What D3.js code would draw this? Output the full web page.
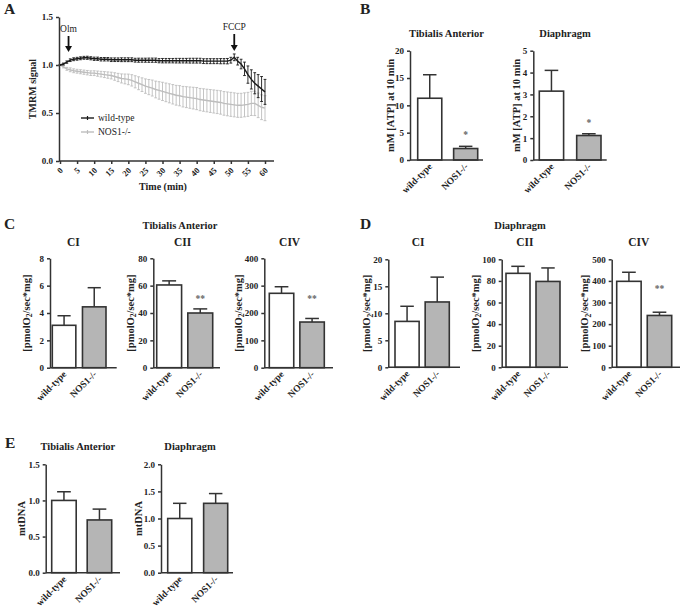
<!DOCTYPE html>
<html><head><meta charset="utf-8">
<script src="https://cdn.jsdelivr.net/npm/d3@7"></script>
<style>
body{margin:0;background:#fff}
svg text{font-family:"Liberation Serif","Times New Roman",serif;font-weight:bold;fill:#222}
</style>
</head><body>
<svg id="c" width="685" height="607"></svg>
<script>
// ---------- DATA ----------
const groups = ["wild-type", "NOS1-/-"];

// Panel A: TMRM signal over time (1-min sampling)
const time = [0,1,2,3,4,5,6,7,8,9,10,11,12,13,14,15,16,17,18,19,20,21,22,23,24,25,26,27,28,29,30,
  31,32,33,34,35,36,37,38,39,40,41,42,43,44,45,46,47,48,49,50,51,52,53,54,55,56,57,58,59,60];
const wtMean = [1.00,1.01,1.03,1.05,1.06,1.065,1.07,1.075,1.075,1.07,1.065,1.065,1.06,1.06,1.06,1.055,
  1.055,1.055,1.055,1.055,1.055,1.055,1.05,1.05,1.05,1.05,1.05,1.05,1.05,1.045,1.045,1.045,1.045,1.045,
  1.045,1.045,1.045,1.045,1.045,1.045,1.045,1.045,1.04,1.04,1.04,1.04,1.04,1.04,1.04,1.04,1.05,1.08,
  1.04,1.01,0.96,0.90,0.85,0.81,0.78,0.75,0.72];
const wtErr = [0,0.01,0.012,0.014,0.015,0.015,0.015,0.015,0.016,0.016,0.017,0.017,0.018,0.018,0.018,0.019,
  0.019,0.019,0.02,0.02,0.02,0.02,0.02,0.021,0.021,0.021,0.022,0.022,0.022,0.022,0.023,0.023,0.023,0.023,
  0.024,0.024,0.024,0.024,0.025,0.025,0.025,0.025,0.025,0.026,0.026,0.026,0.026,0.027,0.027,0.028,0.03,
  0.035,0.04,0.05,0.07,0.09,0.10,0.11,0.12,0.13,0.13];
const nosMean = [1.00,0.98,0.96,0.95,0.94,0.935,0.93,0.925,0.92,0.915,0.915,0.91,0.905,0.90,0.895,0.89,
  0.88,0.87,0.86,0.855,0.85,0.84,0.825,0.81,0.795,0.78,0.77,0.76,0.745,0.735,0.725,0.715,0.705,0.695,
  0.685,0.68,0.67,0.665,0.66,0.655,0.65,0.64,0.635,0.63,0.625,0.62,0.615,0.61,0.60,0.595,0.59,0.585,
  0.58,0.58,0.585,0.59,0.60,0.60,0.58,0.56,0.55];
const nosErr = [0,0.01,0.015,0.02,0.02,0.02,0.021,0.022,0.023,0.024,0.025,0.027,0.029,0.031,0.033,0.035,
  0.039,0.043,0.047,0.051,0.055,0.059,0.063,0.067,0.071,0.075,0.079,0.083,0.087,0.091,0.095,0.097,0.099,
  0.101,0.103,0.105,0.107,0.109,0.111,0.113,0.115,0.116,0.117,0.118,0.119,0.12,0.121,0.122,0.123,0.124,
  0.125,0.125,0.125,0.125,0.125,0.125,0.126,0.127,0.128,0.129,0.13];
const timeTicks = [0,5,10,15,20,25,30,35,40,45,50,55,60];
const tmrmTicks = [0.0,0.5,1.0,1.5];

// Panel B: ATP
const atpTA = [11.3, 2.1],   atpTAErr = [4.3, 0.4];
const atpDia = [3.15, 1.12], atpDiaErr = [0.95, 0.08];
const atpTATicks = [0,5,10,15,20], atpDiaTicks = [0,1,2,3,4,5];

// Panel C: Tibialis Anterior respiration
const taCI = [3.1, 4.45],   taCIErr = [0.7, 1.4];
const taCII = [60.5, 40],   taCIIErr = [3.0, 3.0];
const taCIV = [272, 167],   taCIVErr = [24, 13];
const taCITicks = [0,2,4,6,8], taCIITicks = [0,20,40,60,80], taCIVTicks = [0,100,200,300,400];

// Panel D: Diaphragm respiration
const diaCI = [8.5, 12.1],  diaCIErr = [2.8, 4.6];
const diaCII = [87, 79.5],  diaCIIErr = [6.5, 12.5];
const diaCIV = [398, 240],  diaCIVErr = [42, 15];
const diaCITicks = [0,5,10,15,20], diaCIITicks = [0,20,40,60,80,100], diaCIVTicks = [0,100,200,300,400,500];

// Panel E: mtDNA
const mtTA = [1.0, 0.73],   mtTAErr = [0.12, 0.15];
const mtDia = [1.0, 1.28],  mtDiaErr = [0.28, 0.18];
const mtTATicks = [0,0.5,1.0,1.5], mtDiaTicks = [0,0.5,1.0,1.5,2.0];

// ---------- DRAWING ----------
const FONT = '"Liberation Serif","Times New Roman",serif';
const svg = d3.select("#c").attr("font-family", FONT);
const AX = "#333", GREY = "#b5b5b5";

function text(g, x, y, s, size, o = {}) {
  const t = g.append("text").attr("x", x).attr("y", y).attr("font-size", size)
    .attr("font-family", FONT)
    .attr("text-anchor", o.anchor || "middle").text(s);
  if (o.weight) t.style("font-weight", o.weight);
  if (o.fill) t.style("fill", o.fill);
  return t;
}
function styleAxis(sel, fs) {
  sel.attr("font-family", FONT);
  sel.selectAll("path,line").attr("stroke", AX).attr("stroke-width", 1.5);
  sel.selectAll("text").attr("font-size", fs).attr("font-family", FONT)
    .style("font-family", FONT).style("font-weight", "bold").style("fill", "#222");
}

// Panel letters
[["A",4,14],["B",360,14],["C",4,229],["D",360,229],["E",5,448]].forEach(d =>
  text(svg, d[1], d[2], d[0], 15.5, {anchor: "start"}));

// ---- Panel A ----
(function(){
  const g = svg.append("g");
  const x = d3.scaleLinear().domain([0, 60]).range([60, 265]);
  const y = d3.scaleLinear().domain([0, 1.5]).range([161, 17]);
  const ya = g.append("g").attr("transform", "translate(59,0)")
    .call(d3.axisLeft(y).tickValues(tmrmTicks).tickFormat(d3.format(".1f")).tickSize(3).tickSizeOuter(0));
  styleAxis(ya, 9);
  const xa = g.append("g").attr("transform", "translate(0,161)")
    .call(d3.axisBottom(x).tickValues(timeTicks).tickSize(3).tickSizeOuter(0));
  xa.select(".domain").remove();
  styleAxis(xa, 8.5);
  xa.selectAll("text").attr("text-anchor", "end").attr("dy", null).attr("y", 0)
    .attr("transform", "translate(3,10) rotate(-45)");
  g.append("line").attr("x1", 59).attr("x2", 274).attr("y1", 161).attr("y2", 161)
    .attr("stroke", AX).attr("stroke-width", 1.5);
  text(g, 163, 190, "Time (min)", 10);
  text(g, 0, 0, "TMRM signal", 10).attr("transform", "translate(36,89) rotate(-90)");

  function series(mean, err, col, w) {
    const s = g.append("g");
    time.forEach((t, i) => {
      const cx = x(t), y0 = y(mean[i] - err[i]), y1 = y(mean[i] + err[i]);
      s.append("line").attr("x1", cx).attr("x2", cx).attr("y1", y0).attr("y2", y1)
        .attr("stroke", col).attr("stroke-width", 0.9);
      [y0, y1].forEach(yy => s.append("line").attr("x1", cx - 1.4).attr("x2", cx + 1.4)
        .attr("y1", yy).attr("y2", yy).attr("stroke", col).attr("stroke-width", 0.9));
    });
    s.append("path").datum(time.map((t, i) => [t, mean[i]]))
      .attr("d", d3.line().x(d => x(d[0])).y(d => y(d[1])))
      .attr("fill", "none").attr("stroke", col).attr("stroke-width", w);
  }
  series(nosMean, nosErr, "#bdbdbd", 1.4);
  series(wtMean, wtErr, "#1a1a1a", 1.4);

  // arrows
  function arrow(t, yTop, yBot, label, ly) {
    const ax = x(t);
    g.append("line").attr("x1", ax).attr("x2", ax).attr("y1", yTop).attr("y2", yBot - 5)
      .attr("stroke", "#111").attr("stroke-width", 1.8);
    g.append("path").attr("d", `M${ax-3.5},${yBot-6}L${ax+3.5},${yBot-6}L${ax},${yBot}Z`).attr("fill", "#111");
    text(g, ax, ly, label, 9.5, {weight: "normal"});
  }
  arrow(2.5, 36, 52, "Olm", 32);
  arrow(51, 34, 51, "FCCP", 30);

  // legend
  [["wild-type", "#1a1a1a", 118], ["NOS1-/-", "#bdbdbd", 132]].forEach(d => {
    g.append("line").attr("x1", 81).attr("x2", 94).attr("y1", d[2]).attr("y2", d[2])
      .attr("stroke", d[1]).attr("stroke-width", 1.4);
    g.append("line").attr("x1", 87.5).attr("x2", 87.5).attr("y1", d[2] - 2).attr("y2", d[2] + 2)
      .attr("stroke", d[1]).attr("stroke-width", 1.2);
    text(g, 98, d[2] + 3, d[0], 9.5, {anchor: "start", weight: "normal"});
  });
})();

// ---- Bar panels ----
function barPanel(o) {
  const g = svg.append("g");
  const y = d3.scaleLinear().domain([0, o.ticks[o.ticks.length - 1]]).range([o.y1, o.y0]);
  const x = d3.scaleBand().domain(groups).range([o.b0, o.b1]).paddingInner(o.pad);
  const bw = x.bandwidth();
  // error bars
  groups.forEach((k, i) => {
    const cx = x(k) + bw / 2, top = y(o.vals[i] + o.errs[i]);
    g.append("line").attr("x1", cx).attr("x2", cx).attr("y1", y(o.vals[i])).attr("y2", top)
      .attr("stroke", AX).attr("stroke-width", 1.5);
    g.append("line").attr("x1", cx - bw * 0.28).attr("x2", cx + bw * 0.28).attr("y1", top).attr("y2", top)
      .attr("stroke", AX).attr("stroke-width", 1.5);
  });
  // bars
  g.selectAll("rect.bar").data(groups).join("rect").attr("class", "bar")
    .attr("x", k => x(k)).attr("width", bw)
    .attr("y", (k, i) => y(o.vals[i])).attr("height", (k, i) => o.y1 - y(o.vals[i]))
    .attr("fill", (k, i) => i === 0 ? "#fff" : GREY)
    .attr("stroke", AX).attr("stroke-width", 1.6);
  // axes
  const ya = g.append("g").attr("transform", `translate(${o.ax},0)`)
    .call(d3.axisLeft(y).tickValues(o.ticks).tickFormat(o.fmt || d3.format("d")).tickSize(3).tickSizeOuter(0));
  styleAxis(ya, 9);
  g.append("line").attr("x1", o.ax).attr("x2", o.axEnd).attr("y1", o.y1).attr("y2", o.y1)
    .attr("stroke", AX).attr("stroke-width", 1.5);
  // x labels
  groups.forEach(k => {
    text(g, 0, 0, k, 9.5, {anchor: "end"})
      .attr("transform", `translate(${x(k) + bw / 2 + 3},${o.y1 + 7}) rotate(-45)`);
  });
  // star
  if (o.star) text(g, x(groups[1]) + bw / 2, o.starY, o.star, 9.5, {fill: "#666"});
  // title
  if (o.title) text(g, (o.ax + o.axEnd) / 2 + (o.titleDx || 0), o.titleY, o.title, o.titleSize || 10.5);
  // y label
  const yl = g.append("text").attr("font-size", 10.5).attr("font-family", FONT).attr("text-anchor", "middle")
    .attr("transform", `translate(${o.ylx},${(o.y0 + o.y1) / 2}) rotate(-90)`);
  if (o.ylabel === "pmol") {
    yl.append("tspan").text("[pmolO");
    yl.append("tspan").attr("font-size", 7.5).attr("dy", 2.5).text("2");
    yl.append("tspan").attr("dy", -2.5).text("/sec*mg]");
  } else yl.text(o.ylabel);
}

const f1 = d3.format(".1f");
// B
barPanel({vals: atpTA, errs: atpTAErr, ticks: atpTATicks, ax: 410, axEnd: 483, y0: 50.7, y1: 160,
  b0: 417.7, b1: 477.7, pad: 0.33, star: "*", starY: 138, title: "Tibialis Anterior", titleY: 37,
  titleDx: 0, ylabel: "mM [ATP] at 10 min", ylx: 393.5});
barPanel({vals: atpDia, errs: atpDiaErr, ticks: atpDiaTicks, ax: 533.3, axEnd: 606.7, y0: 50.7, y1: 160,
  b0: 539.3, b1: 601, pad: 0.35, star: "*", starY: 126, title: "Diaphragm", titleY: 37,
  titleDx: -5, ylabel: "mM [ATP] at 10 min", ylx: 520});
// C
text(svg, 180, 229, "Tibialis Anterior", 10.5);
barPanel({vals: taCI, errs: taCIErr, ticks: taCITicks, ax: 50, axEnd: 116.7, y0: 258.3, y1: 367.7,
  b0: 52.3, b1: 106, pad: 0.22, title: "CI", titleY: 246, titleDx: -10, titleSize: 11.5, ylabel: "pmol", ylx: 29.5});
barPanel({vals: taCII, errs: taCIIErr, ticks: taCIITicks, ax: 153.3, axEnd: 220, y0: 258.3, y1: 367.7,
  b0: 156.7, b1: 212.7, pad: 0.2, star: "**", starY: 302, title: "CII", titleY: 246, titleDx: -4, titleSize: 11.5,
  ylabel: "pmol", ylx: 133.5});
barPanel({vals: taCIV, errs: taCIVErr, ticks: taCIVTicks, ax: 264.3, axEnd: 333, y0: 258.3, y1: 367.7,
  b0: 269.3, b1: 324.3, pad: 0.2, star: "**", starY: 302, title: "CIV", titleY: 246, titleDx: -9, titleSize: 11.5,
  ylabel: "pmol", ylx: 241.5});
// D
text(svg, 520, 229, "Diaphragm", 10.5);
barPanel({vals: diaCI, errs: diaCIErr, ticks: diaCITicks, ax: 388.3, axEnd: 460, y0: 259.3, y1: 367.3,
  b0: 395, b1: 449.3, pad: 0.2, title: "CI", titleY: 246, titleDx: -6, titleSize: 11.5, ylabel: "pmol", ylx: 370});
barPanel({vals: diaCII, errs: diaCIIErr, ticks: diaCIITicks, ax: 501.7, axEnd: 568, y0: 259.3, y1: 367.3,
  b0: 506, b1: 560, pad: 0.2, title: "CII", titleY: 246, titleDx: -10, titleSize: 11.5, ylabel: "pmol", ylx: 478.5});
barPanel({vals: diaCIV, errs: diaCIVErr, ticks: diaCIVTicks, ax: 611.7, axEnd: 680, y0: 259.3, y1: 367.3,
  b0: 616.7, b1: 671.7, pad: 0.2, star: "**", starY: 292, title: "CIV", titleY: 246, titleDx: -7, titleSize: 11.5,
  ylabel: "pmol", ylx: 588});
// E
barPanel({vals: mtTA, errs: mtTAErr, ticks: mtTATicks, fmt: f1, ax: 45.7, axEnd: 120, y0: 464.3, y1: 572.7,
  b0: 51.7, b1: 111.7, pad: 0.31, title: "Tibialis Anterior", titleY: 450, titleDx: -5, ylabel: "mtDNA", ylx: 25});
barPanel({vals: mtDia, errs: mtDiaErr, ticks: mtDiaTicks, fmt: f1, ax: 161, axEnd: 233, y0: 464.3, y1: 572.7,
  b0: 167.7, b1: 227.7, pad: 0.33, title: "Diaphragm", titleY: 450, titleDx: -7, ylabel: "mtDNA", ylx: 141.5});
</script>
</body></html>
